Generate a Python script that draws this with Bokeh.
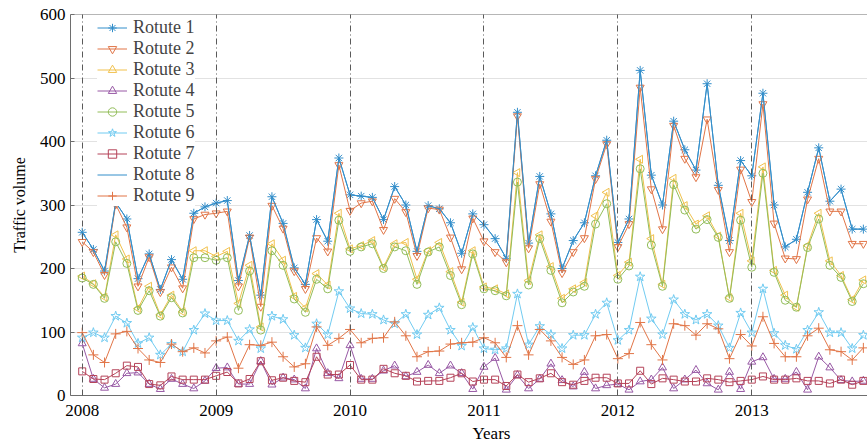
import numpy as np
from bokeh.plotting import figure
from bokeh.models import Range1d, FixedTicker, Legend, LegendItem, Span, Title
from bokeh.embed import file_html
from bokeh.resources import INLINE

# ---------------- data ----------------
years = ["2008", "2009", "2010", "2011", "2012", "2013"]
year_ticks = [0, 12, 24, 36, 48, 60]
y_ticks = [0, 100, 200, 300, 400, 500, 600]
months = list(range(71))  # monthly samples from Jan 2008

route1 = [257, 230, 196, 304, 278, 184, 223, 167, 214, 183, 287, 297, 303, 307, 181, 252, 158, 313, 271, 201, 175, 277, 243, 374, 316,
          314, 312, 277, 329, 300, 227, 299, 294, 272, 224, 286, 269, 247, 216, 446, 240, 345, 286, 200, 244, 272, 346, 402, 241,
          278, 512, 347, 300, 432, 387, 355, 491, 331, 244, 370, 346, 476, 300, 234, 246, 320, 390, 306, 325, 262, 262]
route2 = [242, 226, 190, 301, 265, 172, 218, 163, 202, 169, 278, 285, 287, 290, 172, 249, 140, 299, 263, 196, 168, 248, 227, 363, 291,
          303, 306, 261, 310, 289, 220, 295, 293, 249, 199, 279, 243, 226, 210, 440, 232, 333, 274, 193, 226, 248, 341, 396, 234,
          270, 485, 325, 262, 425, 373, 344, 435, 324, 226, 356, 305, 459, 271, 216, 215, 309, 373, 290, 290, 239, 239]
route3 = [188, 176, 155, 253, 215, 137, 172, 127, 158, 132, 228, 228, 219, 227, 145, 205, 108, 239, 213, 156, 138, 192, 174, 287, 231,
          236, 244, 202, 239, 241, 183, 228, 241, 195, 147, 228, 171, 168, 160, 351, 181, 253, 203, 153, 168, 178, 283, 320, 189,
          210, 372, 247, 175, 342, 299, 270, 283, 251, 154, 287, 212, 360, 197, 158, 139, 236, 287, 212, 189, 151, 182]
route4 = [82, 26, 12, 18, 35, 36, 18, 10, 26, 18, 11, 23, 43, 44, 18, 18, 54, 17, 28, 25, 11, 74, 35, 27, 79,
          26, 26, 39, 47, 30, 37, 48, 35, 47, 35, 10, 45, 59, 9, 32, 11, 26, 50, 24, 14, 37, 11, 16, 18,
          9, 22, 25, 44, 11, 25, 40, 19, 9, 37, 10, 53, 60, 26, 26, 37, 9, 61, 44, 24, 22, 23]
route5 = [185, 175, 153, 242, 208, 134, 165, 125, 154, 130, 217, 217, 213, 217, 134, 196, 103, 228, 205, 152, 131, 183, 168, 276, 227,
          234, 239, 200, 234, 228, 175, 226, 234, 189, 143, 223, 168, 165, 157, 336, 174, 247, 197, 146, 163, 172, 270, 302, 183,
          204, 357, 237, 172, 332, 292, 262, 277, 249, 153, 276, 202, 350, 194, 150, 139, 233, 278, 205, 186, 148, 176]
route6 = [91, 99, 91, 125, 114, 82, 91, 64, 81, 69, 103, 129, 118, 118, 86, 104, 74, 125, 120, 95, 75, 113, 96, 164, 137,
          129, 128, 119, 113, 128, 96, 127, 138, 103, 78, 107, 74, 72, 74, 160, 80, 109, 96, 74, 95, 95, 128, 146, 87,
          103, 187, 121, 96, 151, 128, 119, 128, 110, 75, 130, 99, 168, 98, 79, 73, 103, 131, 99, 99, 74, 95]
route7 = [38, 26, 25, 35, 47, 45, 18, 16, 30, 25, 25, 25, 31, 37, 19, 26, 54, 24, 28, 23, 21, 61, 33, 33, 48,
          25, 25, 42, 35, 31, 22, 23, 23, 28, 35, 22, 25, 25, 15, 33, 21, 27, 35, 21, 17, 23, 28, 28, 19,
          19, 39, 18, 27, 25, 22, 22, 27, 25, 21, 23, 25, 30, 25, 25, 27, 23, 23, 19, 25, 17, 23]
route8 = [257, 230, 196, 304, 278, 184, 223, 167, 214, 183, 287, 297, 303, 307, 181, 252, 158, 313, 271, 201, 175, 277, 243, 374, 316,
          314, 312, 277, 329, 300, 227, 299, 294, 272, 224, 286, 269, 247, 216, 446, 240, 345, 286, 200, 244, 272, 346, 402, 241,
          278, 512, 347, 300, 432, 387, 355, 491, 331, 244, 370, 346, 476, 300, 234, 246, 320, 390, 306, 325, 262, 262]
route9 = [99, 64, 52, 97, 101, 74, 56, 52, 81, 69, 75, 67, 86, 92, 43, 80, 79, 84, 61, 45, 50, 108, 79, 90, 104,
          83, 90, 91, 116, 94, 61, 69, 70, 81, 83, 84, 91, 83, 60, 110, 64, 104, 86, 60, 49, 56, 94, 96, 58,
          66, 115, 80, 56, 113, 110, 95, 113, 105, 58, 96, 78, 124, 82, 61, 61, 94, 106, 72, 69, 56, 75]

labels = ["Rotute 1", "Rotute 2", "Rotute 3", "Rotute 4", "Rotute 5",
          "Rotute 6", "Rotute 7", "Rotute 8", "Rotute 9"]
series = [route1, route2, route3, route4, route5, route6, route7, route8, route9]

# ---------------- styles ----------------
colors = ["#338ECA", "#E17547", "#F1C14D", "#9859A5", "#92BD59",
          "#71CBF1", "#B54359", "#338ECA", "#E17547"]
markers = ["asterisk", "inverted_triangle", "triangle", "triangle", "circle",
           "star", "square", "", "cross"]
angles = [0, 0, np.pi / 2, 0, 0, 0, 0, 0, 0]
sizes = [9, 8, 8, 8, 8, 10, 7, 0, 10]

FONT = "Liberation Serif"
AX = "#6e6e6e"

p = figure(width=867, height=446, output_backend="svg", toolbar_location=None,
           x_range=Range1d(-1.05, 70.37), y_range=Range1d(0, 600),
           min_border_left=70, min_border_right=0, min_border_top=14,
           min_border_bottom=49)
p.outline_line_color = None
p.background_fill_color = "white"

items = []
for lab, ys, col, mk, ang, sz in zip(labels, series, colors, markers, angles, sizes):
    rs = [p.line(months, ys, line_color=col, line_width=1)]
    if mk:
        rs.append(p.scatter(months, ys, marker=mk, size=sz, angle=ang,
                            line_color=col, fill_color=None, line_width=1))
    items.append(LegendItem(label=lab, renderers=rs))

# axes
p.xaxis.ticker = FixedTicker(ticks=year_ticks)
p.xaxis.major_label_overrides = {t: y for t, y in zip(year_ticks, years)}
p.yaxis.ticker = FixedTicker(ticks=y_ticks)
p.xgrid.ticker = FixedTicker(ticks=year_ticks)
p.ygrid.ticker = FixedTicker(ticks=y_ticks)
p.yaxis.axis_label = "Traffic volume"
for ax in (p.xaxis[0], p.yaxis[0]):
    ax.axis_line_color = AX
    ax.major_tick_line_color = AX
    ax.major_tick_in = 4
    ax.major_tick_out = 0
    ax.minor_tick_line_color = None
    ax.major_label_text_font = FONT
    ax.major_label_text_font_size = "17px"
    ax.major_label_text_color = "black"
    ax.axis_label_text_font = FONT
    ax.axis_label_text_font_size = "16px"
    ax.axis_label_text_font_style = "normal"
    ax.axis_label_text_color = "black"
p.xaxis.major_label_standoff = 9
p.yaxis.major_label_standoff = 5
p.yaxis.axis_label_standoff = 9

# x-axis title below the (cropped) axis, placed as in the reference
p.add_layout(Title(text="Years", align="left", offset=402, standoff=7,
                   text_font=FONT, text_font_size="17px",
                   text_font_style="normal", text_color="black"), "below")

# grids
p.ygrid.grid_line_color = "#e2e2e2"
p.ygrid.grid_line_width = 1
p.xgrid.grid_line_color = "#5a5a5a"
p.xgrid.grid_line_dash = "6 3 1 3"
p.xgrid.grid_line_width = 1
p.xgrid.level = "overlay"

# top border of the box
p.add_layout(Span(location=600, dimension="width", line_color=AX, line_width=1))

legend = Legend(items=items, location=(27, 189))
legend.label_text_font = FONT
legend.label_text_font_size = "18px"
legend.glyph_width = 30
legend.glyph_height = 21
legend.label_height = 21
legend.spacing = 0
legend.padding = 0
legend.margin = 0
legend.label_standoff = 6
legend.border_line_color = None
legend.background_fill_color = "white"
legend.background_fill_alpha = 1.0
p.add_layout(legend)

open("out.html", "w").write(file_html(p, INLINE))
